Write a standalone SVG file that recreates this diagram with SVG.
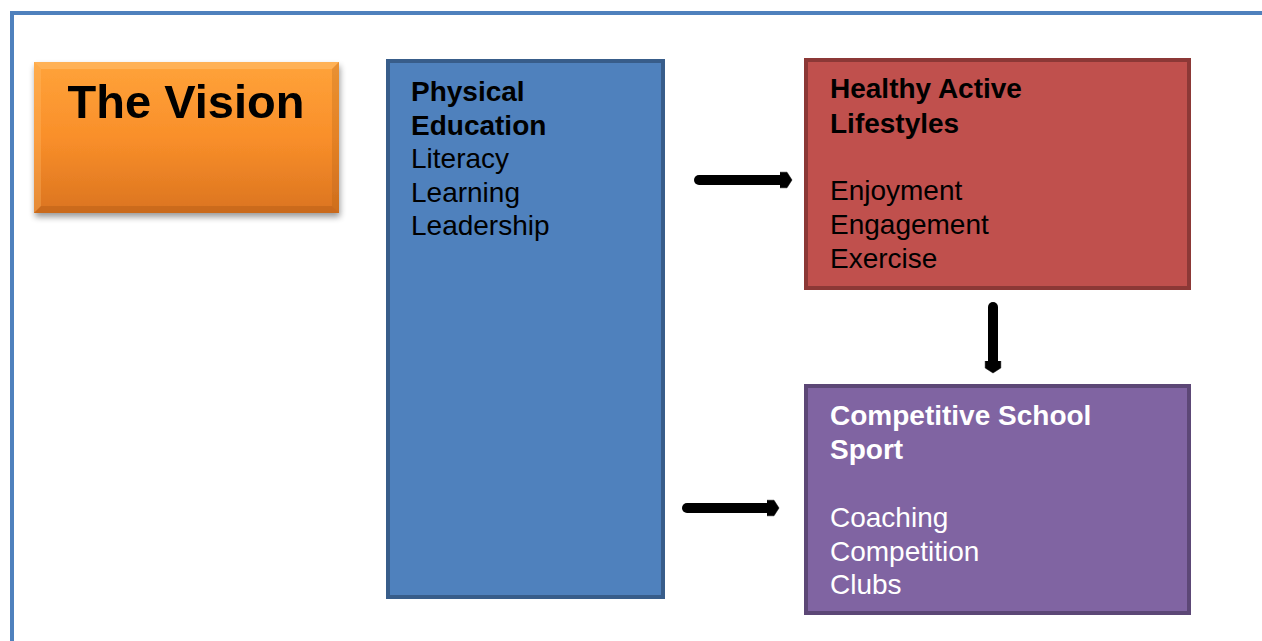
<svg xmlns="http://www.w3.org/2000/svg" width="1262" height="641" viewBox="0 0 1262 641">
<defs>
<linearGradient id="og" x1="0" y1="0" x2="0" y2="1">
<stop offset="0" stop-color="#FFA33A"/>
<stop offset="0.5" stop-color="#F98F2A"/>
<stop offset="1" stop-color="#DB7420"/>
</linearGradient>
<filter id="sh" x="-10%" y="-10%" width="130%" height="130%">
<feGaussianBlur in="SourceAlpha" stdDeviation="3"/>
<feOffset dx="1" dy="4"/>
<feComponentTransfer><feFuncA type="linear" slope="0.4"/></feComponentTransfer>
<feMerge><feMergeNode/><feMergeNode in="SourceGraphic"/></feMerge>
</filter>
<marker id="ah" viewBox="0 0 1.3 2" markerWidth="1.3" markerHeight="2" refX="0.3" refY="1" orient="auto" markerUnits="strokeWidth">
<path d="M0,0.22 L0.7,0.22 L1.2,1 L0.7,1.78 L0,1.78 Z" fill="#000" stroke="#000" stroke-width="0.05" stroke-linejoin="round"/>
</marker>
<style>
text{font-family:"Liberation Sans",Arial,sans-serif;font-size:28px}
.b{font-weight:bold}
.w{fill:#fff}
.k{fill:#000}
.arr{stroke:#000;stroke-width:10;stroke-linecap:round;fill:none}
</style>
</defs>
<path d="M12,641 L12,13 L1262,13" fill="none" stroke="#4F81BD" stroke-width="4"/>
<g id="vision" filter="url(#sh)">
<rect x="34" y="62" width="305" height="151" fill="url(#og)"/>
<path d="M34,62 L339,62 L332,69 L41,69 Z" fill="#FFC070" opacity="0.5"/>
<path d="M34,62 L41,69 L41,206 L34,213 Z" fill="#FFC070" opacity="0.3"/>
<path d="M34,213 L339,213 L332,206 L41,206 Z" fill="#A85A18" opacity="0.35"/>
<path d="M339,62 L339,213 L332,206 L332,69 Z" fill="#A85A18" opacity="0.25"/>
<text class="b k" x="186" y="118" text-anchor="middle" style="font-size:47px">The Vision</text>
</g>
<g id="pe">
<rect x="388" y="61" width="275" height="536" fill="#4F81BD" stroke="#385D8A" stroke-width="4"/>
<text class="k" x="411"><tspan class="b" x="411" y="101">Physical</tspan><tspan class="b" x="411" y="135">Education</tspan><tspan x="411" y="168">Literacy</tspan><tspan x="411" y="202">Learning</tspan><tspan x="411" y="235">Leadership</tspan></text>
</g>
<g id="hal">
<rect x="806" y="60" width="383" height="228" fill="#C0504D" stroke="#8C3836" stroke-width="4"/>
<text class="k" x="830"><tspan class="b" x="830" y="98">Healthy Active</tspan><tspan class="b" x="830" y="133">Lifestyles</tspan><tspan x="830" y="200">Enjoyment</tspan><tspan x="830" y="234">Engagement</tspan><tspan x="830" y="268">Exercise</tspan></text>
</g>
<g id="css">
<rect x="806" y="386" width="383" height="227" fill="#8064A2" stroke="#5C4776" stroke-width="4"/>
<text class="w" x="830"><tspan class="b" x="830" y="425">Competitive School</tspan><tspan class="b" x="830" y="459">Sport</tspan><tspan x="830" y="527">Coaching</tspan><tspan x="830" y="561">Competition</tspan><tspan x="830" y="594">Clubs</tspan></text>
</g>
<g id="connectors">
<line class="arr" x1="699" y1="180" x2="783" y2="180" marker-end="url(#ah)"/>
<line class="arr" x1="993" y1="307" x2="993" y2="364" marker-end="url(#ah)"/>
<line class="arr" x1="687" y1="508" x2="770" y2="508" marker-end="url(#ah)"/>
</g>
</svg>
